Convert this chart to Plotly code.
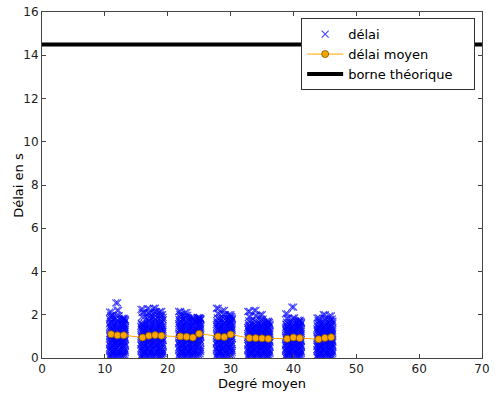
import plotly.graph_objects as go

# degré moyen de chaque série de mesures
degres = [11, 12, 13, 16, 17, 18, 19, 22, 23, 24, 25, 28, 29, 30,
          33, 34, 35, 36, 39, 40, 41, 44, 45, 46]

# délai moyen par degré
moyennes = [1.1, 1.05, 1.05, 0.95, 1.03, 1.06, 1.03, 1.0, 0.98, 0.95, 1.12,
            1.0, 0.97, 1.09, 0.92, 0.92, 0.91, 0.89, 0.89, 0.95, 0.92,
            0.87, 0.93, 0.96]

# borne théorique
borne = 14.5

# décalages horizontaux des mesures autour du degré (deux passes)
decalages_a = [-0.25, 0.15, -0.1, 0.28, -0.2, 0.05, 0.25, -0.28, 0.12, -0.05, 0.2, -0.15,
               0.08, -0.25, 0.25, 0.0, -0.12, 0.18, -0.28, 0.1, -0.2, 0.28, -0.08, 0.04]
decalages_b = [0.1, -0.2, 0.25, -0.05, 0.18, -0.28, -0.1, 0.2, -0.22, 0.28, -0.12, 0.08,
               -0.25, 0.15, -0.05, 0.25, 0.22, -0.2, 0.05, -0.15, 0.28, -0.1, 0.18, -0.25]

# délais mesurés (s), un groupe par degré
delais = [
    [0.04, 0.11, 0.19, 0.3, 0.37, 0.46, 0.55, 0.61, 0.7, 0.79, 0.88, 0.97, 1.03, 1.12, 1.21, 1.3, 1.38, 1.47, 1.58, 1.66, 1.79, 1.88, 1.97, 2.12],
    [0.06, 0.14, 0.22, 0.29, 0.4, 0.48, 0.57, 0.66, 0.73, 0.82, 0.9, 0.99, 1.06, 1.14, 1.23, 1.31, 1.4, 1.5, 1.59, 1.7, 1.83, 1.96, 2.2, 2.55],
    [0.08, 0.16, 0.25, 0.33, 0.41, 0.5, 0.58, 0.67, 0.75, 0.84, 0.92, 1.0, 1.08, 1.16, 1.24, 1.32, 1.4, 1.48, 1.55, 1.62, 1.7, 1.76, 1.8, 1.84],
    [0.03, 0.1, 0.18, 0.27, 0.36, 0.43, 0.52, 0.6, 0.69, 0.77, 0.85, 0.93, 1.0, 1.08, 1.16, 1.24, 1.31, 1.39, 1.47, 1.55, 1.6, 1.9, 2.1, 2.25],
    [0.05, 0.13, 0.21, 0.3, 0.38, 0.47, 0.56, 0.64, 0.73, 0.81, 0.9, 0.98, 1.07, 1.15, 1.24, 1.32, 1.41, 1.5, 1.6, 1.71, 1.83, 1.95, 2.08, 2.28],
    [0.07, 0.15, 0.24, 0.33, 0.42, 0.5, 0.59, 0.68, 0.76, 0.85, 0.94, 1.02, 1.11, 1.19, 1.27, 1.36, 1.45, 1.55, 1.65, 1.76, 1.88, 2.0, 2.14, 2.3],
    [0.04, 0.12, 0.21, 0.29, 0.38, 0.46, 0.55, 0.64, 0.72, 0.81, 0.89, 0.98, 1.06, 1.14, 1.23, 1.31, 1.4, 1.49, 1.58, 1.67, 1.77, 1.88, 2.0, 2.15],
    [0.06, 0.14, 0.23, 0.31, 0.39, 0.48, 0.56, 0.65, 0.73, 0.82, 0.9, 0.98, 1.07, 1.15, 1.24, 1.32, 1.41, 1.5, 1.59, 1.68, 1.78, 1.9, 2.02, 2.15],
    [0.05, 0.13, 0.22, 0.3, 0.38, 0.47, 0.55, 0.63, 0.72, 0.8, 0.88, 0.97, 1.05, 1.13, 1.22, 1.3, 1.39, 1.48, 1.57, 1.66, 1.76, 1.86, 1.97, 2.1],
    [0.07, 0.15, 0.23, 0.31, 0.39, 0.47, 0.55, 0.63, 0.71, 0.79, 0.87, 0.95, 1.03, 1.11, 1.19, 1.27, 1.35, 1.43, 1.51, 1.59, 1.67, 1.74, 1.81, 1.88],
    [0.1, 0.2, 0.3, 0.4, 0.5, 0.6, 0.7, 0.8, 0.88, 0.96, 1.04, 1.12, 1.2, 1.28, 1.36, 1.44, 1.52, 1.6, 1.66, 1.72, 1.77, 1.81, 1.84, 1.86],
    [0.05, 0.13, 0.22, 0.3, 0.39, 0.47, 0.56, 0.64, 0.73, 0.81, 0.9, 0.98, 1.06, 1.14, 1.22, 1.3, 1.38, 1.46, 1.54, 1.63, 1.73, 1.85, 2.05, 2.3],
    [0.04, 0.12, 0.2, 0.28, 0.37, 0.45, 0.54, 0.62, 0.7, 0.79, 0.87, 0.95, 1.03, 1.11, 1.19, 1.27, 1.36, 1.45, 1.54, 1.63, 1.73, 1.85, 2.0, 2.2],
    [0.08, 0.17, 0.26, 0.35, 0.44, 0.53, 0.62, 0.71, 0.8, 0.89, 0.98, 1.06, 1.14, 1.22, 1.3, 1.38, 1.46, 1.54, 1.62, 1.7, 1.77, 1.84, 1.92, 2.0],
    [0.05, 0.12, 0.2, 0.27, 0.35, 0.42, 0.5, 0.57, 0.65, 0.72, 0.8, 0.87, 0.95, 1.02, 1.1, 1.17, 1.25, 1.33, 1.41, 1.5, 1.6, 1.72, 1.9, 2.15],
    [0.04, 0.11, 0.19, 0.26, 0.34, 0.41, 0.49, 0.57, 0.64, 0.72, 0.8, 0.87, 0.95, 1.03, 1.1, 1.18, 1.26, 1.34, 1.42, 1.51, 1.6, 1.72, 1.95, 2.2],
    [0.06, 0.13, 0.21, 0.28, 0.36, 0.43, 0.51, 0.58, 0.66, 0.73, 0.81, 0.88, 0.96, 1.03, 1.11, 1.18, 1.26, 1.34, 1.42, 1.5, 1.58, 1.67, 1.8, 2.0],
    [0.05, 0.12, 0.2, 0.27, 0.35, 0.42, 0.5, 0.57, 0.65, 0.72, 0.8, 0.87, 0.94, 1.01, 1.08, 1.15, 1.22, 1.29, 1.36, 1.43, 1.5, 1.57, 1.64, 1.7],
    [0.04, 0.11, 0.18, 0.26, 0.33, 0.41, 0.48, 0.56, 0.63, 0.71, 0.78, 0.86, 0.93, 1.01, 1.08, 1.16, 1.23, 1.31, 1.39, 1.47, 1.56, 1.66, 1.83, 2.04],
    [0.05, 0.12, 0.2, 0.28, 0.35, 0.43, 0.5, 0.58, 0.66, 0.73, 0.81, 0.89, 0.96, 1.04, 1.12, 1.19, 1.27, 1.35, 1.43, 1.52, 1.61, 1.72, 1.85, 2.35],
    [0.06, 0.13, 0.21, 0.29, 0.37, 0.44, 0.52, 0.6, 0.68, 0.76, 0.83, 0.91, 0.99, 1.06, 1.14, 1.22, 1.3, 1.37, 1.44, 1.51, 1.58, 1.64, 1.7, 1.75],
    [0.03, 0.1, 0.17, 0.25, 0.32, 0.39, 0.47, 0.54, 0.61, 0.69, 0.76, 0.83, 0.91, 0.98, 1.05, 1.13, 1.2, 1.27, 1.35, 1.43, 1.51, 1.6, 1.72, 1.85],
    [0.04, 0.11, 0.19, 0.26, 0.34, 0.41, 0.49, 0.56, 0.64, 0.71, 0.79, 0.86, 0.94, 1.01, 1.09, 1.16, 1.24, 1.32, 1.4, 1.49, 1.58, 1.68, 1.82, 2.0],
    [0.05, 0.12, 0.2, 0.28, 0.36, 0.43, 0.51, 0.59, 0.67, 0.74, 0.82, 0.9, 0.98, 1.05, 1.13, 1.21, 1.29, 1.37, 1.45, 1.53, 1.61, 1.7, 1.8, 1.95],
]

xs, ys = [], []
for d, groupe in zip(degres, delais):
    for decalages in (decalages_a, decalages_b):
        for dx, y in zip(decalages, groupe):
            xs.append(d + dx)
            ys.append(y)

FONT = "DejaVu Sans"
PAD = "\u00a0" * 4  # élargit le cadre de la légende comme dans matplotlib

fig = go.Figure()

fig.add_trace(go.Scatter(
    x=xs, y=ys, mode="markers", name="délai",
    marker=dict(symbol="x-thin", size=7, color="blue",
                line=dict(color="rgba(0,0,255,0.7)", width=1.2)),
))
fig.add_trace(go.Scatter(
    x=degres, y=moyennes, mode="lines+markers", name="délai moyen",
    line=dict(color="orange", width=1),
    marker=dict(symbol="circle", size=7, color="orange",
                line=dict(color="#7a5000", width=0.8)),
))
fig.add_trace(go.Scatter(
    x=[0, 70], y=[borne, borne], mode="lines", name="borne théorique" + PAD,
    line=dict(color="black", width=4),
))

axe = dict(showgrid=False, zeroline=False, showline=True, linecolor="#444",
           linewidth=1, mirror="ticks", ticks="inside", ticklen=4,
           tickcolor="#444", ticklabeloverflow="allow",
           tickfont=dict(family=FONT, size=12, color="#222"))

fig.update_xaxes(range=[0, 70], dtick=10,
                 title=dict(text="Degré moyen", standoff=3,
                            font=dict(family=FONT, size=13, color="black")), **axe)
fig.update_yaxes(range=[0, 16], dtick=2, **axe)

fig.add_annotation(text="Délai en s", textangle=-90, showarrow=False,
                   xref="paper", yref="paper", x=-0.055, y=0.5,
                   xanchor="center", yanchor="middle",
                   font=dict(family=FONT, size=13, color="black"))

fig.update_layout(
    width=495, height=394,
    margin=dict(l=42, r=5, t=12, b=34),
    plot_bgcolor="white", paper_bgcolor="white",
    font=dict(family=FONT, size=12, color="black"),
    legend=dict(x=0.589, y=0.982, xanchor="left", yanchor="top",
                bgcolor="white", bordercolor="#333", borderwidth=1,
                font=dict(family=FONT, size=13), tracegroupgap=0,
                itemwidth=36),
)

fig.write_html("out.html", config={"displayModeBar": False},
               post_script="document.body.style.margin='0';")
